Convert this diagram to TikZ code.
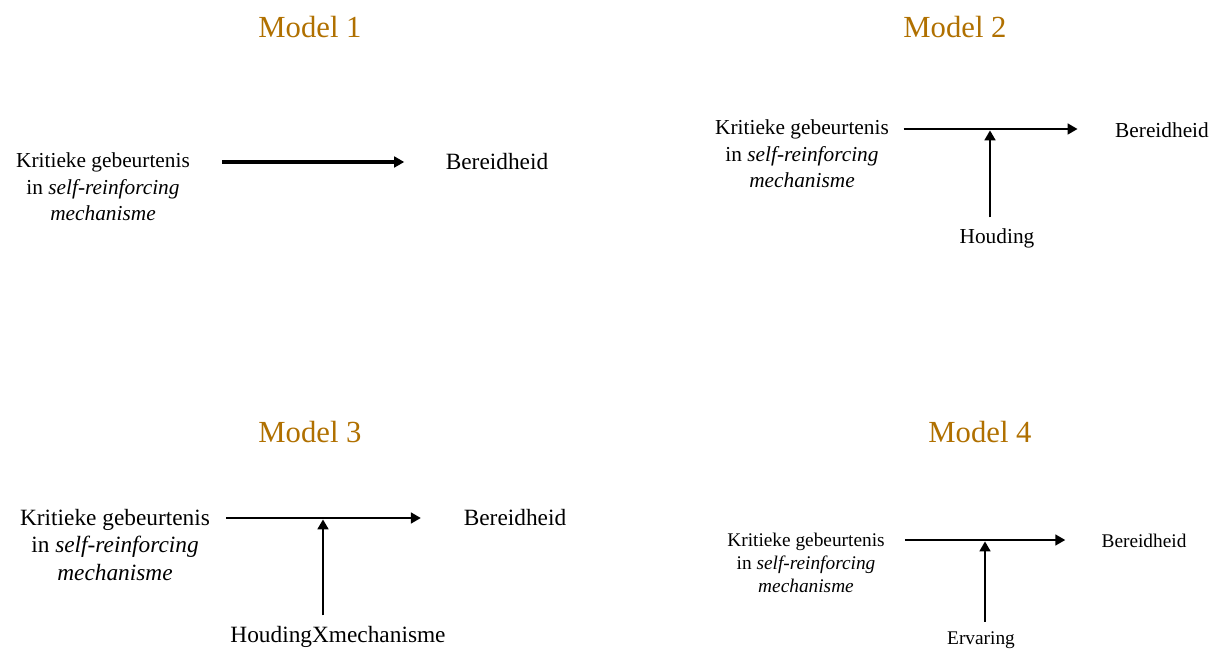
\documentclass[tikz,border=0pt]{standalone}
\usepackage{fontspec}
\setmainfont{Liberation Serif}
\usetikzlibrary{arrows.meta, positioning}
\definecolor{titlegold}{RGB}{176,112,0}
\newcommand{\kritiek}{Kritieke gebeurtenis\\in \textit{self-reinforcing}\\\textit{mechanisme}}

\begin{document}
\begin{tikzpicture}[x=0.75pt, y=-0.75pt,
    title/.style={titlegold, inner sep=0pt, font=\fontsize{23}{28}\selectfont},
    lbl/.style={align=center, inner sep=0pt},
    conn/.style={line width=2.2pt, -{Triangle[length=7.5pt, width=8pt]}}]
    \useasboundingbox (0,0) rectangle (1220,652);

    % Model 1
    \node[title] (t1) at (310,27) {Model 1};
    \node[lbl, font=\fontsize{16}{20}\selectfont] (k1) at (103,187) {\kritiek};
    \node[lbl, font=\fontsize{17.5}{21}\selectfont] (b1) at (497,162) {Bereidheid};
    \draw[conn, line width=2.6pt, shorten <=24pt, shorten >=31pt] (k1.east |- b1) -- (b1.west);

    % Model 2
    \node[title] (t2) at (955,27) {Model 2};
    \node[lbl, font=\fontsize{16}{20}\selectfont] (k2) at (802,154) {\kritiek};
    \node[lbl, font=\fontsize{16}{20}\selectfont] (b2) at (1162,130) {Bereidheid};
    \node[lbl, font=\fontsize{16}{20}\selectfont] (h2) at (997,238) {Houding};
    \coordinate (m2) at (990,129);
    \draw[conn, shorten <=11pt, shorten >=28pt] (k2.east |- m2) -- (b2.west |- m2);
    \draw[conn, shorten <=8pt, shorten >=1pt] (m2 |- h2.north) -- (m2);

    % Model 3
    \node[title] (t3) at (310,432) {Model 3};
    \node[lbl, font=\fontsize{17.5}{20.5}\selectfont] (k3) at (115,545) {\kritiek};
    \node[lbl, font=\fontsize{17.5}{21}\selectfont] (b3) at (515,518) {Bereidheid};
    \node[lbl, font=\fontsize{17.5}{21}\selectfont] (h3) at (338,637) {HoudingXmechanisme};
    \coordinate (m3) at (323,518);
    \draw[conn, shorten <=12pt, shorten >=32pt] (k3.east |- m3) -- (b3.west |- m3);
    \draw[conn, shorten <=8pt, shorten >=1pt] (m3 |- h3.north) -- (m3);

    % Model 4
    \node[title] (t4) at (980,432) {Model 4};
    \node[lbl, font=\fontsize{14.5}{17}\selectfont] (k4) at (806,563) {\kritiek};
    \node[lbl, font=\fontsize{14.5}{17}\selectfont] (b4) at (1144,541) {Bereidheid};
    \node[lbl, font=\fontsize{14.5}{17}\selectfont] (h4) at (981,640) {Ervaring};
    \coordinate (m4) at (985,540);
    \draw[conn, line width=1.8pt, shorten <=15pt, shorten >=27pt] (k4.east |- m4) -- (b4.west |- m4);
    \draw[conn, line width=1.8pt, shorten <=7pt, shorten >=1pt] (m4 |- h4.north) -- (m4);
\end{tikzpicture}
\end{document}
